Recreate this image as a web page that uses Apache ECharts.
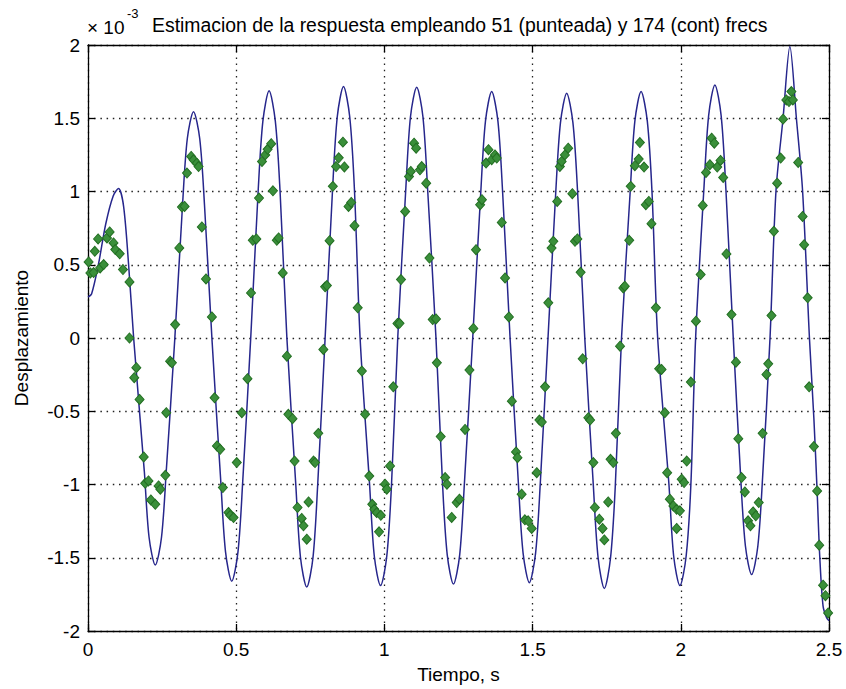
<!DOCTYPE html>
<html>
<head>
<meta charset="utf-8">
<script src="https://cdn.jsdelivr.net/npm/echarts@6/dist/echarts.min.js"></script>
<style>
html,body{margin:0;padding:0;background:#fff;}
#c{width:846px;height:689px;}
</style>
</head>
<body>
<div id="c"></div>
<script>
// Axis ticks
var xTicks = [0, 0.5, 1, 1.5, 2, 2.5];
var yTicks = [-2, -1.5, -1, -0.5, 0, 0.5, 1, 1.5, 2];

// Continuous estimate (174 freqs), x10^-3
var lineT = [0.000,0.012,0.035,0.060,0.085,0.103,0.120,0.137,0.154,
0.190,0.206,0.227,0.248,0.264,0.293,
0.319,0.335,0.356,0.377,0.393,0.418,
0.448,0.464,0.485,0.506,0.522,0.549,
0.574,0.590,0.611,0.632,0.648,0.671,
0.701,0.717,0.738,0.759,0.775,0.800,
0.825,0.841,0.862,0.883,0.899,0.918,
0.950,0.966,0.987,1.008,1.024,1.045,
1.072,1.088,1.109,1.130,1.146,1.174,
1.196,1.212,1.233,1.254,1.270,1.298,
1.325,1.341,1.362,1.383,1.399,1.424,
1.452,1.468,1.489,1.510,1.526,1.552,
1.578,1.594,1.615,1.636,1.652,1.676,
1.705,1.721,1.742,1.763,1.779,1.800,
1.829,1.845,1.866,1.887,1.903,1.922,
1.960,1.976,1.997,2.018,2.034,2.050,
2.078,2.094,2.115,2.136,2.152,2.177,
2.202,2.218,2.239,2.260,2.276,2.301,
2.321,2.345,2.368,2.390,2.411,2.434,
2.449,2.460,2.469,2.480,2.492,2.500];
var lineV = [0.28,0.30,0.50,0.78,0.97,1.02,0.90,0.50,0.00,
-0.91,-1.36,-1.55,-1.36,-0.91,0.00,
0.91,1.36,1.545,1.36,0.91,0.00,
-0.98,-1.46,-1.66,-1.46,-0.98,0.00,
1.00,1.48,1.687,1.48,1.00,0.00,
-1.00,-1.50,-1.70,-1.50,-1.00,0.00,
1.01,1.51,1.716,1.51,1.01,0.00,
-1.00,-1.49,-1.69,-1.49,-1.00,0.00,
1.01,1.51,1.712,1.51,1.01,0.00,
-0.99,-1.48,-1.68,-1.48,-0.99,0.00,
0.99,1.48,1.682,1.48,0.99,0.00,
-0.99,-1.47,-1.67,-1.47,-0.99,0.00,
0.99,1.47,1.671,1.47,0.99,0.00,
-1.01,-1.50,-1.71,-1.50,-1.01,0.00,
0.99,1.48,1.682,1.48,0.99,0.00,
-1.00,-1.49,-1.69,-1.49,-1.00,0.00,
1.02,1.52,1.727,1.52,1.02,0.00,
-0.95,-1.42,-1.615,-1.42,-0.95,0.00,
1.00,1.50,1.99,1.50,1.00,0.00,
-0.55,-1.05,-1.50,-1.83,-1.91,-1.93];

// Dotted estimate (51 freqs), x10^-3
var dotT = [0.002,0.008,0.019,0.023,0.034,0.041,0.053,0.064,0.073,0.086,0.092,0.107,0.118,0.140,0.140,0.156,0.163,0.174,0.188,0.193,0.204,0.212,0.227,0.238,0.244,0.261,0.264,0.277,0.283,
0.294,0.308,0.317,0.326,0.334,0.348,0.356,0.367,0.373,0.384,0.398,0.418,
0.427,0.435,0.446,0.455,0.474,0.480,0.491,0.502,0.519,0.538,
0.550,0.556,0.568,0.577,0.587,0.598,0.606,0.618,0.624,0.637,0.643,0.657,
0.671,0.676,0.690,0.697,0.707,0.721,0.727,0.738,0.744,0.761,0.766,0.777,0.794,
0.800,0.806,0.815,0.826,0.837,0.846,0.860,0.865,0.879,0.888,0.899,0.910,
0.924,0.935,0.949,0.959,0.966,0.974,0.982,0.988,1.002,1.008,1.019,1.030,
1.044,1.051,1.056,1.070,1.083,1.089,1.100,1.107,1.120,1.126,1.141,1.152,1.163,1.174,
1.177,1.190,1.205,1.211,1.227,1.244,1.253,1.272,1.287,
1.300,1.309,1.323,1.329,1.343,1.351,1.362,1.373,1.379,1.396,1.407,1.420,
1.430,1.444,1.449,1.463,1.474,1.485,1.497,1.514,1.523,1.531,1.542,
1.553,1.564,1.570,1.583,1.592,1.598,1.609,1.620,1.634,1.643,1.651,1.662,
1.669,1.688,1.694,1.705,1.710,1.725,1.736,1.742,1.755,1.763,1.772,1.781,1.795,
1.806,1.811,1.826,1.831,1.845,1.858,1.862,1.876,1.882,1.892,1.901,1.916,
1.927,1.935,1.946,1.954,1.963,1.975,1.986,1.997,1.986,2.003,2.011,2.020,2.034,
2.051,2.067,2.074,2.085,2.098,2.104,2.113,2.123,2.134,2.143,2.154,2.171,
2.186,2.194,2.205,2.216,2.227,2.235,2.244,2.253,2.263,2.276,2.289,2.295,
2.306,2.314,2.325,2.337,2.345,2.356,2.365,2.373,2.378,2.396,2.411,2.416,2.428,
2.433,2.449,2.460,2.467,2.480,2.488,2.497];
var dotV = [0.519,0.444,0.447,0.592,0.676,0.478,0.501,0.683,0.724,0.649,0.604,0.575,0.467,0.383,0.000,-0.271,-0.203,-0.419,-0.812,-0.992,-0.976,-1.105,-1.135,-1.010,-1.032,-0.937,-0.510,-0.158,-0.169,
0.092,0.615,0.894,0.898,1.126,1.239,1.216,1.193,1.170,0.758,0.403,0.144,
-0.408,-0.737,-0.760,-1.021,-1.191,-1.210,-1.226,-0.850,-0.510,-0.278,
0.308,0.667,0.676,0.955,1.205,1.250,1.288,1.326,1.005,0.667,0.683,0.444,
-0.124,-0.521,-0.551,-0.840,-1.157,-1.232,-1.282,-1.373,-1.119,-0.840,-0.850,-0.651,-0.078,
0.349,0.358,0.664,1.035,1.170,1.230,1.337,1.168,0.898,0.925,0.767,0.206,
-0.226,-0.521,-0.942,-1.135,-1.169,-1.192,-1.323,-1.210,-0.998,-1.032,-0.873,-0.333,
0.099,0.100,0.399,0.864,1.103,1.137,1.330,1.296,1.148,1.170,1.057,0.546,0.126,0.130,
-0.169,-0.673,-0.953,-0.998,-1.225,-1.123,-1.100,-0.624,-0.219,
0.065,0.603,0.910,0.944,1.194,1.285,1.217,1.250,1.228,0.789,0.410,0.144,
-0.431,-0.778,-0.817,-1.066,-1.241,-1.248,-1.300,-0.919,-0.560,-0.574,-0.333,
0.240,0.614,0.660,0.932,1.171,1.205,1.250,1.296,0.985,0.660,0.676,0.448,
-0.142,-0.544,-0.560,-0.850,-1.157,-1.237,-1.300,-1.378,-1.119,-0.828,-0.850,-0.651,-0.056,
0.342,0.354,0.667,1.035,1.176,1.221,1.334,1.167,0.910,0.932,0.780,0.206,
-0.210,-0.215,-0.510,-0.919,-1.100,-1.146,-1.169,-1.180,-1.300,-0.964,-0.987,-0.840,-0.301,
0.115,0.433,0.905,1.130,1.183,1.364,1.330,1.167,1.212,1.096,0.574,0.160,
-0.165,-0.687,-0.953,-1.051,-1.248,-1.282,-1.187,-1.214,-1.123,-0.651,-0.249,-0.176,
0.153,0.728,1.057,1.228,1.494,1.625,1.614,1.682,1.625,1.198,0.830,0.637,0.274,
-0.333,-0.741,-1.044,-1.414,-1.687,-1.759,-1.877];

var titleText = 'Estimacion de la respuesta empleando 51 (punteada) y 174 (cont) frecs';
var xName = 'Tiempo, s';
var yName = 'Desplazamiento';

var lineData = lineT.map(function (t, i) { return [t, lineV[i]]; });
var dotData = dotT.map(function (t, i) { return [t, dotV[i]]; });

var FONT = 'Liberation Sans, Arial, Helvetica, sans-serif';
var chart = echarts.init(document.getElementById('c'), null, {renderer: 'svg'});

var gridStyle = {color: '#222', width: 1.3, type: [1.5, 4.7]};

chart.setOption({
  animation: false,
  backgroundColor: '#fff',
  title: [
    {text: titleText, left: 152, top: 15, padding: 0,
     textStyle: {fontFamily: FONT, fontSize: 19.4, fontWeight: 'normal', color: '#000'}},
    {text: '\u00d7 10', left: 87, top: 18, padding: 0,
     textStyle: {fontFamily: FONT, fontSize: 19, fontWeight: 'normal', color: '#000'}},
    {text: '-3', left: 127, top: 7, padding: 0,
     textStyle: {fontFamily: FONT, fontSize: 13, fontWeight: 'normal', color: '#000'}}
  ],
  grid: {left: 88, right: 17, top: 45, bottom: 57, containLabel: false},
  xAxis: [
    {type: 'value', min: xTicks[0], max: xTicks[xTicks.length - 1], interval: 0.5,
     name: xName, nameLocation: 'middle', nameGap: 34,
     nameTextStyle: {fontFamily: FONT, fontSize: 19, color: '#000'},
     axisLine: {show: true, onZero: false, lineStyle: {color: '#000', width: 1.3}},
     axisTick: {show: true, inside: true, length: 7, lineStyle: {color: '#000', width: 1.3}},
     axisLabel: {show: true, margin: 9, fontFamily: FONT, fontSize: 19, color: '#000',
                 formatter: function (v) { return String(+v.toFixed(1)); }},
     splitLine: {show: true, lineStyle: gridStyle}},
    {type: 'value', position: 'top', min: xTicks[0], max: xTicks[xTicks.length - 1], interval: 0.5,
     axisLine: {show: true, onZero: false, lineStyle: {color: '#000', width: 1.3}},
     axisTick: {show: true, inside: true, length: 7, lineStyle: {color: '#000', width: 1.3}},
     axisLabel: {show: false}, splitLine: {show: false}}
  ],
  yAxis: [
    {type: 'value', min: yTicks[0], max: yTicks[yTicks.length - 1], interval: 0.5,
     name: yName, nameLocation: 'middle', nameGap: 57, nameRotate: 90,
     nameTextStyle: {fontFamily: FONT, fontSize: 19, color: '#000'},
     axisLine: {show: true, onZero: false, lineStyle: {color: '#000', width: 1.3}},
     axisTick: {show: true, inside: true, length: 7, lineStyle: {color: '#000', width: 1.3}},
     axisLabel: {show: true, margin: 8, fontFamily: FONT, fontSize: 19, color: '#000',
                 formatter: function (v) { return String(+v.toFixed(1)); }},
     splitLine: {show: true, lineStyle: gridStyle}},
    {type: 'value', position: 'right', min: yTicks[0], max: yTicks[yTicks.length - 1], interval: 0.5,
     axisLine: {show: true, onZero: false, lineStyle: {color: '#000', width: 1.3}},
     axisTick: {show: true, inside: true, length: 7, lineStyle: {color: '#000', width: 1.3}},
     axisLabel: {show: false}, splitLine: {show: false}}
  ],
  series: [
    {type: 'line', data: lineData, xAxisIndex: 0, yAxisIndex: 0,
     showSymbol: false, symbol: 'none', smooth: 0.3,
     lineStyle: {color: '#26268c', width: 1.5}, z: 2},
    {type: 'scatter', data: dotData, xAxisIndex: 0, yAxisIndex: 0,
     symbol: 'diamond', symbolSize: [9, 10],
     itemStyle: {color: '#3a8f3a', borderColor: '#236f23', borderWidth: 1, opacity: 1}, z: 3}
  ]
});
</script>
</body>
</html>
